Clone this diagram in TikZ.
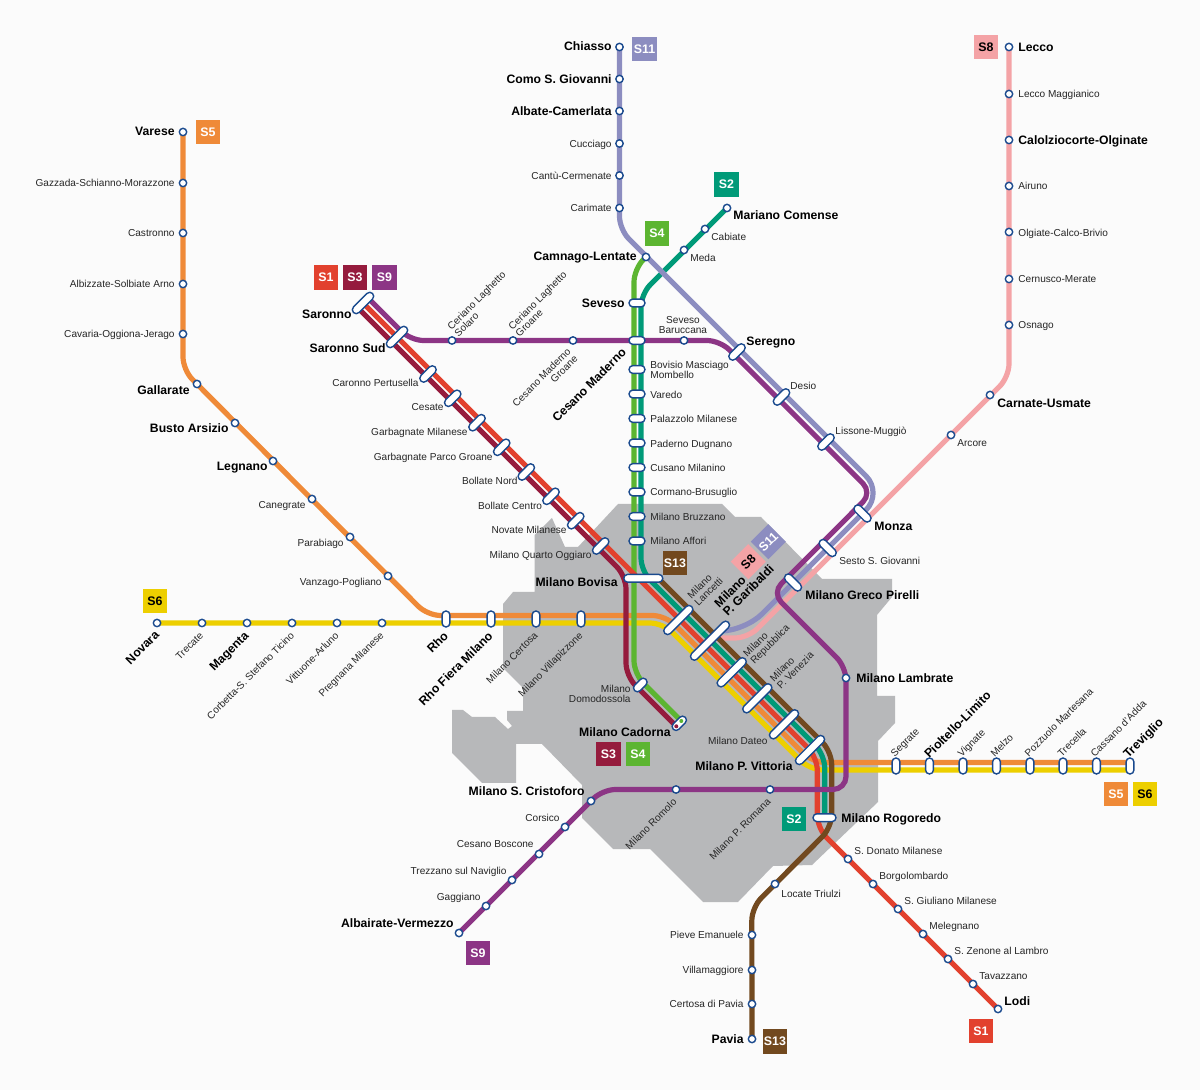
\documentclass[tikz,border=0pt]{standalone}
\usepackage{fontspec}
\setmainfont{Liberation Sans}
\usetikzlibrary{backgrounds}
\definecolor{colbg}{HTML}{FBFBFB}
\definecolor{colcity}{HTML}{B7B8BA}
\definecolor{colstn}{HTML}{1A4A8E}
\definecolor{colSone}{HTML}{E2412E}
\definecolor{colStwo}{HTML}{009A78}
\definecolor{colSthree}{HTML}{951B3D}
\definecolor{colSfour}{HTML}{5CB531}
\definecolor{colSfive}{HTML}{EF8A38}
\definecolor{colSsix}{HTML}{EDCF00}
\definecolor{colSeight}{HTML}{F4A3A6}
\definecolor{colSnine}{HTML}{8C3585}
\definecolor{colSeleven}{HTML}{8C8DC0}
\definecolor{colSthirteen}{HTML}{72491F}
\tikzset{
  stn/.style={draw=colstn,fill=white,circle,line width=0.7pt,minimum size=3.7pt,inner sep=0pt},
  cap/.style={draw=colstn,fill=white,line width=0.7pt,rounded corners=1.95pt,minimum height=3.9pt,minimum width=#1,inner sep=0pt},
  dot/.style={fill=#1,circle,minimum size=2pt,inner sep=0pt},
  mlbl/.style={inner sep=0pt,font=\fontsize{5.04}{5}\selectfont,text=black!85},
  lbl/.style={mlbl,text height=3.6pt,text depth=0pt},
  mbig/.style={inner sep=0pt,font=\fontsize{6.1}{6.1}\bfseries\selectfont,text=black},
  big/.style={mbig,text height=4.4pt,text depth=0pt},
  badge/.style={fill=#1,minimum size=12.4pt,inner sep=0pt,text=white,font=\fontsize{6.2}{6.2}\bfseries\selectfont},
  ln/.style={draw=#1,line width=2.6pt,rounded corners=6.5pt}
}
\begin{document}
\begin{tikzpicture}[x=0.5pt,y=-0.5pt]
\useasboundingbox (0,0) rectangle (1200,1090);
\node[stn] (varese) at (183,132) {}; \node[big,anchor=east] (lvarese) at (175,131) {Varese};
\node[stn] (gazzada) at (183,183) {}; \node[lbl,anchor=east] (lgazzada) at (175,183) {Gazzada-Schianno-Morazzone};
\node[stn] (castronno) at (183,233) {}; \node[lbl,anchor=east] (lcastronno) at (175,233) {Castronno};
\node[stn] (albizzate) at (183,284) {}; \node[lbl,anchor=east] (lalbizzate) at (175,284) {Albizzate-Solbiate Arno};
\node[stn] (cavaria) at (183,334) {}; \node[lbl,anchor=east] (lcavaria) at (175,334) {Cavaria-Oggiona-Jerago};
\node[stn] (gallarate) at (197,384) {}; \node[big,anchor=east] (lgallarate) at (190,390) {Gallarate};
\node[stn] (busto) at (235,423) {}; \node[big,anchor=east] (lbusto) at (229,428) {Busto Arsizio};
\node[stn] (legnano) at (273,461) {}; \node[big,anchor=east] (llegnano) at (268,466) {Legnano};
\node[stn] (canegrate) at (312,499) {}; \node[lbl,anchor=east] (lcanegrate) at (306,505) {Canegrate};
\node[stn] (parabiago) at (350,537) {}; \node[lbl,anchor=east] (lparabiago) at (344,543) {Parabiago};
\node[stn] (vanzago) at (388,576) {}; \node[lbl,anchor=east] (lvanzago) at (382,582) {Vanzago-Pogliano};
\node[stn] (novara) at (157,623) {}; \node[big,anchor=east,rotate=45] (lnovara) at (157,632.5) {Novara};
\node[stn] (trecate) at (202,623) {}; \node[lbl,anchor=east,rotate=45] (ltrecate) at (201.5,633.5) {Trecate};
\node[stn] (magenta) at (247,623) {}; \node[big,anchor=east,rotate=45] (lmagenta) at (246.5,633.5) {Magenta};
\node[stn] (corbetta) at (292,623) {}; \node[lbl,anchor=east,rotate=45] (lcorbetta) at (292.5,633.5) {Corbetta-S. Stefano Ticino};
\node[stn] (vittuone) at (337,623) {}; \node[lbl,anchor=east,rotate=45] (lvittuone) at (337,633.5) {Vittuone-Arluno};
\node[stn] (pregnana) at (382,623) {}; \node[lbl,anchor=east,rotate=45] (lpregnana) at (382,633.5) {Pregnana Milanese};
\node[cap=8pt,rotate=90] (rho) at (446,619) {}; \node[big,anchor=east,rotate=45] (lrho) at (446,633.5) {Rho};
\node[cap=8pt,rotate=90] (rhofiera) at (491,619) {}; \node[big,anchor=east,rotate=45] (lrhofiera) at (490.5,633.5) {Rho Fiera Milano};
\node[cap=8pt,rotate=90] (certosa) at (536,619) {}; \node[lbl,anchor=east,rotate=45] (lcertosa) at (536,633.5) {Milano Certosa};
\node[cap=8pt,rotate=90] (villapizzone) at (581,619) {}; \node[lbl,anchor=east,rotate=45] (lvillapizzone) at (581,633.5) {Milano Villapizzone};
\node[cap=13.5pt,rotate=45] (saronno) at (363,303) {}; \node[big,anchor=east] (lsaronno) at (352,314) {Saronno};
\node[cap=13.5pt,rotate=45] (saronnosud) at (397,337) {}; \node[big,anchor=east] (lsaronnosud) at (386,348) {Saronno Sud};
\node[cap=10pt,rotate=45] (caronno) at (428,374) {}; \node[lbl,anchor=east] (lcaronno) at (419,382.5) {Caronno Pertusella};
\node[cap=10pt,rotate=45] (cesate) at (452.7,398.3) {}; \node[lbl,anchor=east] (lcesate) at (444,407) {Cesate};
\node[cap=10pt,rotate=45] (garbagnate) at (477,422.7) {}; \node[lbl,anchor=east] (lgarbagnate) at (468,432) {Garbagnate Milanese};
\node[cap=10pt,rotate=45] (parcogroane) at (501.7,447.3) {}; \node[lbl,anchor=east] (lparcogroane) at (493,456.5) {Garbagnate Parco Groane};
\node[cap=10pt,rotate=45] (bollaten) at (526.3,472) {}; \node[lbl,anchor=east] (lbollaten) at (518,481) {Bollate Nord};
\node[cap=10pt,rotate=45] (bollatec) at (551,496.3) {}; \node[lbl,anchor=east] (lbollatec) at (542.5,506) {Bollate Centro};
\node[cap=10pt,rotate=45] (novate) at (575.7,520.7) {}; \node[lbl,anchor=east] (lnovate) at (567,530) {Novate Milanese};
\node[cap=10pt,rotate=45] (quarto) at (600.7,546) {}; \node[lbl,anchor=east] (lquarto) at (592,555) {Milano Quarto Oggiaro};
\node[cap=19.5pt] (bovisa) at (643.3,578.3) {}; \node[big,anchor=east] (lbovisa) at (618,582) {Milano Bovisa};
\node[stn] (cerianos) at (452,340.5) {}; \node[mlbl,rotate=45,align=left] (lcerianos) at (480,304) {Ceriano Laghetto\\Solaro};
\node[stn] (cerianog) at (513,340.5) {}; \node[mlbl,rotate=45,align=left] (lcerianog) at (541,304) {Ceriano Laghetto\\Groane};
\node[stn] (cesanog) at (573,340.5) {}; \node[mlbl,rotate=45,align=right] (lcesanog) at (545,381) {Cesano Maderno\\Groane};
\node[stn] (chiasso) at (619.5,47) {}; \node[big,anchor=east] (lchiasso) at (612,46) {Chiasso};
\node[stn] (como) at (619.5,79) {}; \node[big,anchor=east] (lcomo) at (612,79) {Como S. Giovanni};
\node[stn] (albate) at (619.5,111) {}; \node[big,anchor=east] (lalbate) at (612,111) {Albate-Camerlata};
\node[stn] (cucciago) at (619.5,143.5) {}; \node[lbl,anchor=east] (lcucciago) at (612,144) {Cucciago};
\node[stn] (cantu) at (619.5,175.5) {}; \node[lbl,anchor=east] (lcantu) at (612,176) {Cantù-Cermenate};
\node[stn] (carimate) at (619.5,208) {}; \node[lbl,anchor=east] (lcarimate) at (612,208) {Carimate};
\node[stn] (camnago) at (646,257) {}; \node[big,anchor=east] (lcamnago) at (637,256) {Camnago-Lentate};
\node[stn] (mariano) at (727,208) {}; \node[big,anchor=west] (lmariano) at (733,215) {Mariano Comense};
\node[stn] (cabiate) at (705,229) {}; \node[lbl,anchor=west] (lcabiate) at (711,237) {Cabiate};
\node[stn] (meda) at (684,250) {}; \node[lbl,anchor=west] (lmeda) at (690,258) {Meda};
\node[cap=8pt] (seveso) at (637,303) {}; \node[big,anchor=east] (lseveso) at (625,303) {Seveso};
\node[cap=8pt] (cesanom) at (637,340.5) {}; \node[big,anchor=east,rotate=45] (lcesanom) at (624,350) {Cesano Maderno};
\node[stn] (baruccana) at (684,340.5) {}; \node[mlbl,align=center] (lbaruccana) at (683,325) {Seveso\\Baruccana};
\node[cap=8pt] (bovisio) at (637,369.5) {}; \node[mlbl,anchor=west,align=left] (lbovisio) at (650,370) {Bovisio Masciago\\Mombello};
\node[cap=8pt] (varedo) at (637,394) {}; \node[lbl,anchor=west] (lvaredo) at (650,395) {Varedo};
\node[cap=8pt] (palazzolo) at (637,418.5) {}; \node[lbl,anchor=west] (lpalazzolo) at (650,419) {Palazzolo Milanese};
\node[cap=8pt] (paderno) at (637,443) {}; \node[lbl,anchor=west] (lpaderno) at (650,443.5) {Paderno Dugnano};
\node[cap=8pt] (cusano) at (637,467.5) {}; \node[lbl,anchor=west] (lcusano) at (650,468) {Cusano Milanino};
\node[cap=8pt] (cormano) at (637,492) {}; \node[lbl,anchor=west] (lcormano) at (650,492) {Cormano-Brusuglio};
\node[cap=8pt] (bruzzano) at (637,516.5) {}; \node[lbl,anchor=west] (lbruzzano) at (650,517) {Milano Bruzzano};
\node[cap=8pt] (affori) at (637,541) {}; \node[lbl,anchor=west] (laffori) at (650,541) {Milano Affori};
\node[cap=8pt,rotate=45] (domodossola) at (640.3,685) {}; \node[mlbl,anchor=east,align=right] (ldomodossola) at (631,694) {Milano\\Domodossola};
\node[cap=8.5pt,rotate=45] (cadorna) at (679.3,723.3) {}; \node[big,anchor=east] (lcadorna) at (671,732) {Milano Cadorna};
\node[dot=colSfour] (cadornag) at (681.3,721) {};
\node[dot=colSthree] (cadornar) at (676.3,726.3) {};
\node[cap=19pt,rotate=45] (lancetti) at (678.3,620) {}; \node[mlbl,rotate=45,align=left] (llancetti) at (705,588) {Milano\\Lancetti};
\node[cap=26pt,rotate=45] (garibaldi) at (710,640.7) {}; \node[mbig,rotate=45,align=left] (lgaribaldi) at (744,586) {Milano\\P. Garibaldi};
\node[cap=19pt,rotate=45] (repubblica) at (731.7,672.3) {}; \node[mlbl,rotate=45,align=left] (lrepubblica) at (767,641) {Milano\\Repubblica};
\node[cap=19pt,rotate=45] (venezia) at (757.3,698.3) {}; \node[mlbl,rotate=45,align=left] (lvenezia) at (791.7,666.5) {Milano\\P. Venezia};
\node[cap=19pt,rotate=45] (dateo) at (784,724.3) {}; \node[lbl,anchor=east] (ldateo) at (768,741) {Milano Dateo};
\node[cap=19pt,rotate=45] (vittoria) at (810,750) {}; \node[big,anchor=east] (lvittoria) at (793,766) {Milano P. Vittoria};
\node[cap=11.5pt] (rogoredo) at (824.5,817.7) {}; \node[big,anchor=west] (lrogoredo) at (841,818) {Milano Rogoredo};
\node[cap=10pt,rotate=45] (seregno) at (737,352) {}; \node[big,anchor=west] (lseregno) at (746,341) {Seregno};
\node[cap=10pt,rotate=45] (desio) at (781.5,397) {}; \node[lbl,anchor=west] (ldesio) at (790,386) {Desio};
\node[cap=10pt,rotate=45] (lissone) at (826,442) {}; \node[lbl,anchor=west] (llissone) at (835,431) {Lissone-Muggiò};
\node[cap=10.5pt,rotate=-45] (monza) at (862.5,513.5) {}; \node[big,anchor=west] (lmonza) at (874,526) {Monza};
\node[cap=10.5pt,rotate=-45] (sesto) at (827.7,548) {}; \node[lbl,anchor=west] (lsesto) at (839,561) {Sesto S. Giovanni};
\node[cap=10.5pt,rotate=-45] (greco) at (793,582.5) {}; \node[big,anchor=west] (lgreco) at (805,595) {Milano Greco Pirelli};
\node[stn] (lambrate) at (846,678) {}; \node[big,anchor=west] (llambrate) at (856,678) {Milano Lambrate};
\node[stn] (romana) at (770,789.5) {}; \node[lbl,anchor=east,rotate=45] (lromana) at (769,800) {Milano P. Romana};
\node[stn] (romolo) at (676,789.5) {}; \node[lbl,anchor=east,rotate=45] (lromolo) at (675,800) {Milano Romolo};
\node[stn] (cristoforo) at (591,801) {}; \node[big,anchor=east] (lcristoforo) at (585,791) {Milano S. Cristoforo};
\node[stn] (corsico) at (565,827) {}; \node[lbl,anchor=east] (lcorsico) at (560,818) {Corsico};
\node[stn] (boscone) at (539,854) {}; \node[lbl,anchor=east] (lboscone) at (534,844) {Cesano Boscone};
\node[stn] (trezzano) at (512,880) {}; \node[lbl,anchor=east] (ltrezzano) at (507,871) {Trezzano sul Naviglio};
\node[stn] (gaggiano) at (486,906) {}; \node[lbl,anchor=east] (lgaggiano) at (481,897) {Gaggiano};
\node[stn] (albairate) at (459,933) {}; \node[big,anchor=east] (lalbairate) at (454,923) {Albairate-Vermezzo};
\node[stn] (locate) at (775,884) {}; \node[lbl,anchor=west] (llocate) at (781,894) {Locate Triulzi};
\node[stn] (pieve) at (752,935) {}; \node[lbl,anchor=east] (lpieve) at (744,935) {Pieve Emanuele};
\node[stn] (villamaggiore) at (752,970) {}; \node[lbl,anchor=east] (lvillamaggiore) at (744,970) {Villamaggiore};
\node[stn] (certosap) at (752,1004) {}; \node[lbl,anchor=east] (lcertosap) at (744,1004) {Certosa di Pavia};
\node[stn] (pavia) at (752,1039) {}; \node[big,anchor=east] (lpavia) at (744,1039) {Pavia};
\node[stn] (donato) at (848,859) {}; \node[lbl,anchor=west] (ldonato) at (854,851) {S. Donato Milanese};
\node[stn] (borgolombardo) at (873,884) {}; \node[lbl,anchor=west] (lborgolombardo) at (879,876) {Borgolombardo};
\node[stn] (giuliano) at (898,909) {}; \node[lbl,anchor=west] (lgiuliano) at (904,901) {S. Giuliano Milanese};
\node[stn] (melegnano) at (923,934) {}; \node[lbl,anchor=west] (lmelegnano) at (929,926) {Melegnano};
\node[stn] (zenone) at (948,959) {}; \node[lbl,anchor=west] (lzenone) at (954,951) {S. Zenone al Lambro};
\node[stn] (tavazzano) at (973,984) {}; \node[lbl,anchor=west] (ltavazzano) at (979,976) {Tavazzano};
\node[stn] (lodi) at (998,1009) {}; \node[big,anchor=west] (llodi) at (1004,1001) {Lodi};
\node[stn] (lecco) at (1009,47) {}; \node[big,anchor=west] (llecco) at (1018,47) {Lecco};
\node[stn] (maggianico) at (1009,94) {}; \node[lbl,anchor=west] (lmaggianico) at (1018,94) {Lecco Maggianico};
\node[stn] (calolzio) at (1009,140) {}; \node[big,anchor=west] (lcalolzio) at (1018,140) {Calolziocorte-Olginate};
\node[stn] (airuno) at (1009,186) {}; \node[lbl,anchor=west] (lairuno) at (1018,186) {Airuno};
\node[stn] (olgiate) at (1009,232) {}; \node[lbl,anchor=west] (lolgiate) at (1018,233) {Olgiate-Calco-Brivio};
\node[stn] (cernusco) at (1009,279) {}; \node[lbl,anchor=west] (lcernusco) at (1018,279) {Cernusco-Merate};
\node[stn] (osnago) at (1009,325) {}; \node[lbl,anchor=west] (losnago) at (1018,325) {Osnago};
\node[stn] (carnate) at (990,395) {}; \node[big,anchor=west] (lcarnate) at (997,403) {Carnate-Usmate};
\node[stn] (arcore) at (951,435) {}; \node[lbl,anchor=west] (larcore) at (957,443) {Arcore};
\node[cap=8pt,rotate=90] (segrate) at (896,766) {}; \node[lbl,anchor=west,rotate=45] (lsegrate) at (892,755) {Segrate};
\node[cap=8pt,rotate=90] (pioltello) at (929.5,766) {}; \node[big,anchor=west,rotate=45] (lpioltello) at (926,756) {Pioltello-Limito};
\node[cap=8pt,rotate=90] (vignate) at (963,766) {}; \node[lbl,anchor=west,rotate=45] (lvignate) at (959,755) {Vignate};
\node[cap=8pt,rotate=90] (melzo) at (996.5,766) {}; \node[lbl,anchor=west,rotate=45] (lmelzo) at (992,755) {Melzo};
\node[cap=8pt,rotate=90] (pozzuolo) at (1030,766) {}; \node[lbl,anchor=west,rotate=45] (lpozzuolo) at (1026,755) {Pozzuolo Martesana};
\node[cap=8pt,rotate=90] (trecella) at (1063,766) {}; \node[lbl,anchor=west,rotate=45] (ltrecella) at (1059,755) {Trecella};
\node[cap=8pt,rotate=90] (cassano) at (1096.5,766) {}; \node[lbl,anchor=west,rotate=45] (lcassano) at (1092,755) {Cassano d'Adda};
\node[cap=8pt,rotate=90] (treviglio) at (1130,766) {}; \node[big,anchor=west,rotate=45] (ltreviglio) at (1125,756) {Treviglio};
\node[badge=colSone] (bSoneA) at (326,277.5) {S1};
\node[badge=colSthree] (bSthreeA) at (355,277.5) {S3};
\node[badge=colSnine] (bSnineA) at (384.5,277.5) {S9};
\node[badge=colSfive] (bSfiveA) at (208,132) {S5};
\node[badge=colSeleven] (bSelevenA) at (644.5,49) {S11};
\node[badge=colSfour] (bSfourA) at (657,233.5) {S4};
\node[badge=colStwo] (bStwoA) at (726.5,184.5) {S2};
\node[badge=colSeight,text=black] (bSeightA) at (986,47) {S8};
\node[badge=colSthirteen] (bSthirteenA) at (675,563) {S13};
\node[badge=colSeight,text=black,rotate=45] (bSeightB) at (748.3,561.7) {S8};
\node[badge=colSeleven,rotate=45] (bSelevenB) at (768.3,541.7) {S11};
\node[badge=colSfive] (bSfiveB) at (1116,794) {S5};
\node[badge=colSsix,text=black] (bSsixB) at (1145,794) {S6};
\node[badge=colSsix,text=black] (bSsixA) at (155,601) {S6};
\node[badge=colSthree] (bSthreeB) at (608.5,754) {S3};
\node[badge=colSfour] (bSfourB) at (638,754) {S4};
\node[badge=colStwo] (bStwoB) at (794,819) {S2};
\node[badge=colSnine] (bSnineB) at (478,953) {S9};
\node[badge=colSone] (bSoneB) at (981,1031) {S1};
\node[badge=colSthirteen] (bSthirteenB) at (775,1041.5) {S13};
\coordinate (s5a) at (183,370);
\coordinate (s5b) at (427.5,615.5);
\coordinate (s5c) at (665.5,615.5);
\coordinate (s5d) at (812.5,762.5);
\coordinate (s5e) at (1130,762.5);
\coordinate (s6a) at (663,623);
\coordinate (s6b) at (810,770);
\coordinate (s6c) at (1130,770);
\coordinate (s1a) at (366,306);
\coordinate (s1b) at (817.3,757.3);
\coordinate (s1c) at (817.3,828.3);
\coordinate (s3a) at (358,308);
\coordinate (s3b) at (626,576);
\coordinate (s3c) at (626,676);
\coordinate (s9a) at (366,296);
\coordinate (s9b) at (410.5,340.5);
\coordinate (s9c) at (720,340.5);
\coordinate (s9d) at (872.2,492.7);
\coordinate (s9e) at (772,593);
\coordinate (s9f) at (846,667);
\coordinate (s9g) at (846,789.5);
\coordinate (s9h) at (602.5,789.5);
\coordinate (s11a) at (619.5,229.5);
\coordinate (s11b) at (883,493);
\coordinate (s11c) at (745,631);
\coordinate (s11d) at (722,631);
\coordinate (s8a) at (1009,377);
\coordinate (s8b) at (748,638);
\coordinate (s8c) at (720,638);
\coordinate (s2a) at (641,294);
\coordinate (s2b) at (641,571);
\coordinate (s2c) at (824.7,754.7);
\coordinate (s2d) at (824.7,817.7);
\coordinate (s4a) at (634,269);
\coordinate (s4b) at (634,673.7);
\coordinate (s13a) at (658,578);
\coordinate (s13b) at (831.7,751.7);
\coordinate (s13c) at (831.7,827.3);
\coordinate (s13d) at (751.8,907.5);
\begin{pgfonlayer}{background}
\fill[colbg] (0,0) rectangle (1200,1090);
\fill[colcity] (618,504) -- (722,504) -- (735,517) -- (761,517) -- (822,579) -- (892,579) -- (892,597) -- (877,615) -- (877,696) -- (895,696) -- (895,723) -- (878,741) -- (878,802) -- (812,865) -- (773,866) -- (738,902) -- (703,902) -- (650,849) -- (613,849) -- (582,818) -- (582,785) -- (542,744) -- (516,744) -- (516,783) -- (482,783) -- (452,753) -- (452,710) -- (463,710) -- (472,717) -- (495,717) -- (508,729) -- (512,726) -- (507,720) -- (507,711) -- (523,711) -- (523,688) -- (503,668) -- (503,604) -- (513,592) -- (534.5,592) -- (534.5,535) -- (552,518) -- (565,547) -- (578,547) -- cycle;
\draw[ln=colSsix] (novara.center) -- (s6a) -- (s6b) -- (s6c);
\draw[ln=colSfive] (varese.center) -- (s5a) -- (s5b) -- (s5c) -- (s5d) -- (s5e);
\draw[ln=colSeight] (lecco.center) -- (s8a) -- (s8b) -- (s8c);
\draw[ln=colStwo] (mariano.center) -- (s2a) -- (s2b) -- (s2c) -- (s2d);
\draw[ln=colSfour] (camnago.center) -- (s4a) -- (s4b) -- (cadornag.center);
\draw[ln=colSone] (s1a) -- (s1b) -- (s1c) -- (lodi.center);
\draw[ln=colSthree] (s3a) -- (s3b) -- (s3c) -- (cadornar.center);
\draw[ln=colSthirteen] (s13a) -- (s13b) -- (s13c) -- (s13d) -- (pavia.center);
\draw[ln=colSeleven] (chiasso.center) -- (s11a) [rounded corners=12pt] -- (s11b) -- (s11c) [rounded corners=6.5pt] -- (s11d);
\draw[ln=colSnine] (s9a) -- (s9b) -- (s9c) -- (s9d) -- (s9e) -- (s9f) -- (s9g) -- (s9h) -- (albairate.center);
\end{pgfonlayer}
\end{tikzpicture}
\end{document}
